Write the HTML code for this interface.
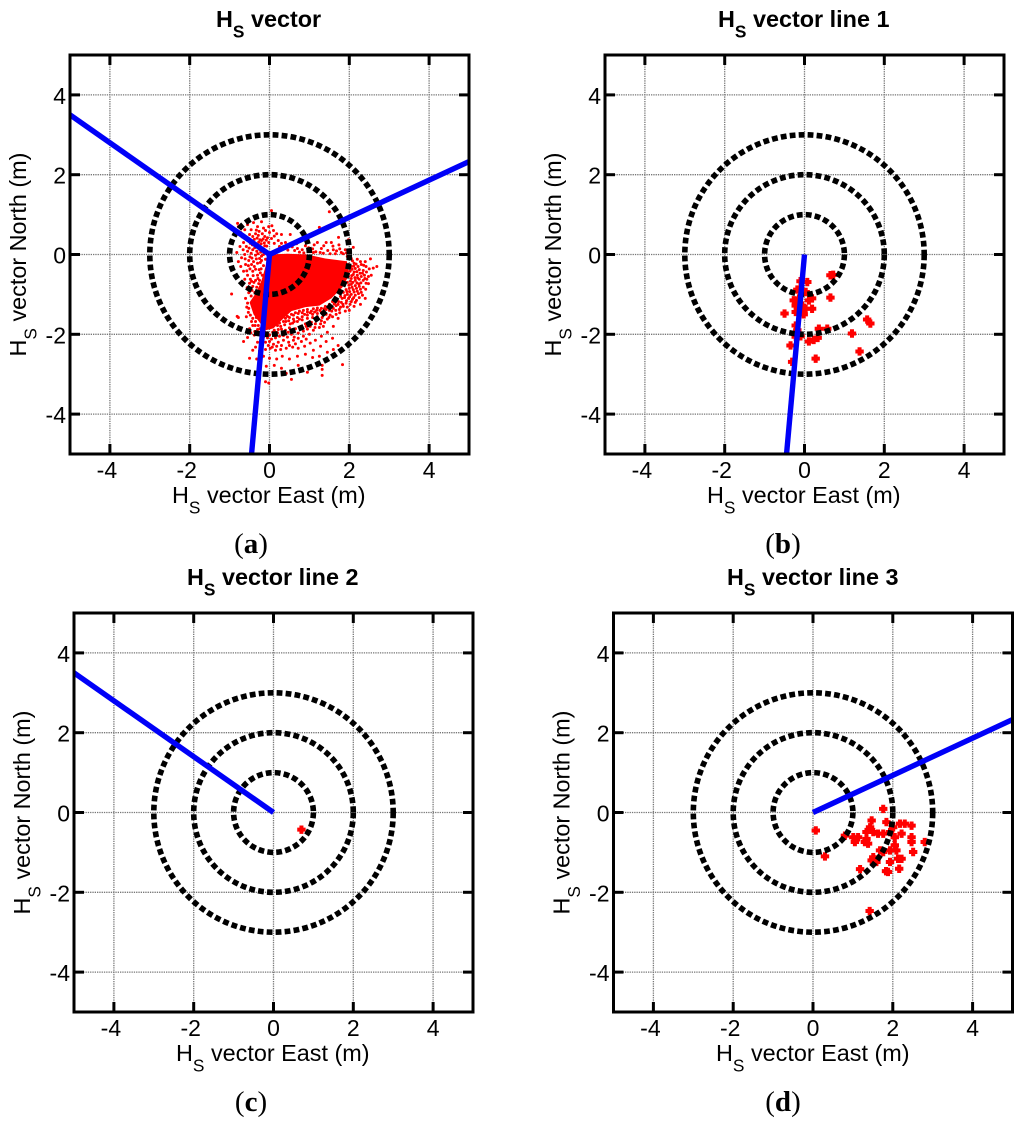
<!DOCTYPE html>
<html>
<head>
<meta charset="utf-8">
<title>HS vector scatter panels</title>
<style>
html,body{margin:0;padding:0;background:#fff;}
svg{display:block;}
text{font-family:"Liberation Sans",sans-serif;fill:#000;}
</style>
</head>
<body>
<svg id="fig" xmlns="http://www.w3.org/2000/svg" width="1024" height="1127" viewBox="0 0 1024 1127"></svg>
<script>
const tickValues = [-4, -2, 0, 2, 4];
const tickLabels = ["-4", "-2", "0", "2", "4"];
const ringRadii = [1, 2, 3];
const axisLimit = 5;

const line1End = [-0.45, -5];
const line2End = [-5, 3.5];
const line3End = [5, 2.33];

const panelATitle = "vector";
const panelBTitle = "vector line 1";
const panelCTitle = "vector line 2";
const panelDTitle = "vector line 3";

/* solid saturated core of the panel (a) cloud, [east, north] */
const coreOutline = [[0,0],[0.45,0.02],[0.94,0],[1.4,-0.1],[1.94,-0.17],[2,-0.5],[1.83,-0.82],[1.55,-1.1],[1.25,-1.28],[0.9,-1.32],[0.55,-1.42],[0.3,-1.65],[0.1,-1.85],[-0.1,-1.9],[-0.25,-1.7],[-0.4,-1.5],[-0.5,-1.2],[-0.33,-0.95],[-0.2,-0.65],[-0.1,-0.3]];

const cloudPoints = [
[0.05,1.1],[-0.8,0.78],[-0.78,0.7],[-0.62,0.62],[-0.55,0.75],[-0.4,0.8],[-0.3,0.7],[-0.2,0.82],[-0.1,0.6],[0,0.55],[0.1,0.6],[0.3,0.5],[0.52,0.5],[-0.72,0.55],[-0.5,0.5],[-0.42,0.45],[-0.35,0.52],[-0.28,0.48],[-0.18,0.52],[-0.12,0.45],[-0.05,0.42],[0.05,0.4],[0.12,0.46],[0.22,0.35],[0.3,0.28],[0.4,0.3],[0.25,0.2],[0.12,0.28],[-0.02,0.3],[-0.2,0.35],[-0.12,0.22],
[-0.65,0.3],[-0.58,0.2],[-0.55,0.08],[-0.62,0],[-0.7,-0.08],[-0.52,-0.15],[-0.6,-0.25],[-0.72,-0.3],[-0.65,-0.42],[-0.55,-0.52],[-0.48,-0.62],[-0.42,-0.42],[-0.38,-0.3],[-0.4,-0.18],[-0.35,-0.02],[-0.42,0.12],[-0.3,0.2],[-0.32,0.08],[-0.25,-0.1],[-0.3,-0.22],[-0.26,-0.38],[-0.3,-0.52],[-0.35,-0.65],[-0.25,-0.65],[-0.18,-0.52],[-0.15,-0.28],[-0.2,-0.15],[-0.15,0],[-0.5,-0.72],[-0.42,-0.8],[-0.32,-0.82],[-0.18,-0.75],[-0.62,-0.62],[-0.78,-0.18],[-0.82,0.05],[-0.48,0.28],[-0.18,0.12],[-0.1,-0.12],[-0.95,-0.99],[-0.81,-1.55],[-0.78,-1.58],
[0.7,0.15],[0.9,0.22],[1.02,0.1],[1.2,0.3],[1.25,0.68],[1.5,1.07],[1.42,0.3],[1.6,0.12],[1.73,0.43],[1.98,0.37],[2.1,0.18],[1.8,0.05],[1.55,0.3],[1.3,0.15],[0.82,0.12],[1.1,0.05],[1.65,0.02],[1.9,0.12],
[1.95,-0.05],[2.05,-0.1],[2.12,-0.22],[2.2,-0.12],[2.3,-0.25],[2.4,-0.18],[2.53,-0.11],[2.69,-0.3],[2.6,-0.34],[2.5,-0.36],[2.42,-0.3],[2.35,-0.4],[2.25,-0.38],[2.15,-0.35],[2.05,-0.3],[1.98,-0.25],[2.02,-0.42],[2.1,-0.5],[2.2,-0.52],[2.3,-0.55],[2.38,-0.52],[2.48,-0.55],[2.55,-0.52],[2.48,-0.73],[2.42,-0.72],[2.35,-0.65],[2.25,-0.62],[2.15,-0.65],[2.05,-0.6],[1.98,-0.55],[1.95,-0.7],[2.05,-0.75],[2.15,-0.78],[2.25,-0.8],[2.35,-0.82],[2.3,-0.95],[2.2,-0.92],[2.1,-0.88],[2,-0.85],[1.92,-0.88],[1.85,-0.95],[1.95,-1],[2.05,-1],[2.15,-1.02],[2.25,-1.08],[2.18,-1.15],[2.08,-1.12],[1.98,-1.1],[1.88,-1.08],[1.78,-1.05],[1.7,-1.12],[1.8,-1.2],[1.92,-1.22],[2.02,-1.25],[2.12,-1.3],[1.95,-1.32],[1.85,-1.3],[1.72,-1.25],[2.28,-1.25],[2.4,-1.1],[1.65,-1.2],[1.6,-1.35],[1.75,-1.38],[1.9,-1.42],[2,-1.4],
[1.4,-1.3],[1.5,-1.25],[1.58,-1.18],[1.3,-1.35],[1.2,-1.34],[1.1,-1.36],[0.95,-1.38],[0.85,-1.4],[0.75,-1.42],[0.65,-1.46],[0.55,-1.5],[0.45,-1.55],[0.4,-1.6],[0.35,-1.68],[0.25,-1.72],[0.5,-1.58],[0.6,-1.52],[0.72,-1.48],[0.82,-1.46],[0.95,-1.44],[1.05,-1.42],[1.18,-1.4],[1.3,-1.44],[1.42,-1.38],[1.5,-1.4],[1.35,-1.5],[1.2,-1.48],[1.08,-1.5],[0.95,-1.52],[0.82,-1.56],[0.7,-1.58],[0.6,-1.62],[0.48,-1.66],[0.38,-1.76],[0.28,-1.8],[0.2,-1.78],[0.58,-1.72],[0.7,-1.68],[0.82,-1.64],[0.95,-1.6],[1.08,-1.58],[1.2,-1.56],[1.32,-1.58],[1.42,-1.5],[1.52,-1.52],[1.45,-1.62],[1.3,-1.66],[1.18,-1.64],[1.05,-1.7],[0.9,-1.74],[0.78,-1.8],[0.65,-1.86],[0.5,-1.84],[0.4,-1.9],[0.3,-1.87],[1.15,-1.74],[1.28,-1.74],[1.38,-1.7],
[0.12,-1.9],[0.08,-1.95],[-0.05,-1.96],[-0.12,-1.94],[-0.2,-1.88],[-0.28,-1.78],[-0.35,-1.68],[-0.42,-1.6],[-0.48,-1.52],[-0.52,-1.35],[-0.18,-1.96],[-0.1,-2],[0,-2.02],[0.1,-2],[0.2,-1.96],[-0.3,-1.88],[-0.42,-1.78],[-0.28,-1.98],[-0.15,-2.06],[-0.05,-2.09],[0.05,-2.12],[0.15,-2.09],[0.25,-2.05],[0.35,-2.03],[0.45,-2.07],[0.55,-2],[0.62,-2.07],[0.72,-1.97],[0.85,-1.92],[0.95,-1.87],[1.1,-1.9],[-0.38,-2.02],
[-0.2,-2.15],[-0.1,-2.2],[0,-2.18],[0.1,-2.25],[0.22,-2.2],[0.35,-2.15],[0.48,-2.2],[0.6,-2.15],[0.72,-2.1],[0.85,-2.05],[1,-2],[-0.65,-2.18],[-0.55,-2.08],[-0.3,-2.2],[-0.35,-2.32],[-0.42,-2.4],[-0.25,-2.42],[-0.1,-2.38],[0.02,-2.35],[0.15,-2.4],[0.28,-2.38],[0.42,-2.35],[0.58,-2.32],[0.72,-2.35],[0.88,-2.3],[1.02,-2.22],[1.15,-2.15],[1.3,-2.05],[1.45,-1.95],[1.6,-1.8],[1.72,-1.6],[1.1,-2.4],[1.28,-2.3],[1.42,-2.18],[1.58,-2.1],[-0.5,-2.6],[-0.32,-2.62],[-0.15,-2.55],[0,-2.6],[0.18,-2.62],[0.32,-2.55],[0.5,-2.62],[0.7,-2.55],[0.9,-2.5],[1.08,-2.58],[1.25,-2.55],[1.45,-2.45],[1.6,-2.38],[1.72,-2.28],[-0.08,-2.8],[0.12,-2.78],[0.3,-2.85],[0.72,-2.78],[1.32,-2.78],[1.32,-2.88],[1.83,-2.76],[0.55,-3.13],[1.32,-3.03],[-0.1,-3.19],[-0.02,-3.22],[0.42,-2.98],[0.95,-2.95]
];

const cloudExtraPoints = [
[-0.47,0.33],[-0.38,0.38],[-0.31,0.41],[-0.24,0.37],[-0.16,0.39],[-0.08,0.36],[-0.43,0.24],[-0.36,0.27],[-0.27,0.31],[-0.21,0.27],[-0.13,0.29],[-0.07,0.21],[-0.37,0.17],[-0.25,0.13],[-0.22,0.06],[-0.12,0.09],[-0.08,0.05],[-0.29,0.02],[-0.2,-0.04],[-0.46,0.03],[-0.49,-0.06],[-0.44,-0.09],[-0.33,-0.11],[-0.23,-0.2],[-0.45,-0.25],[-0.35,-0.37],[-0.21,-0.36],[-0.23,-0.46],[-0.41,-0.53],[-0.29,-0.6],[-0.39,-0.7],[-0.27,-0.73],[-0.45,-0.67],[-0.57,-0.41],[-0.49,-0.36],[-0.53,-0.28],[-0.61,-0.11],[-0.66,0.12],[-0.51,0.16],[-0.74,0.2],[-0.56,0.36],[-0.68,0.44],[-0.46,0.62],[-0.33,0.61],[-0.26,0.58],[-0.15,0.66],[-0.02,0.7],[0.06,0.72],[0.18,0.52],[-0.56,-0.83],[-0.44,-0.9],[-0.37,-0.95],[-0.52,-0.96],[-0.46,-1.04],[-0.6,-1.1],[-0.55,-1.22],[-0.57,-1.32],
[0.46,0.11],[0.57,0.19],[0.68,0.27],[0.63,0.1],[0.75,0.06],[0.86,0.04],[0.98,0.17],[1.08,0.14],[1.16,0.07],[1.27,0.05],[1.35,0.03],[1.46,0.1],[1.52,0.02],[1.59,0.21],[1.68,0.09],[1.76,0.14],[1.85,0.02],[1.93,0.04],[1.36,0.22],[1.12,0.24],[1.74,0.24],
[2.03,-0.04],[2.08,-0.16],[2.17,-0.24],[2.11,-0.29],[2.22,-0.3],[2.28,-0.18],[2.36,-0.27],[2.07,-0.37],[2.12,-0.44],[2.19,-0.43],[2.27,-0.47],[2.33,-0.47],[2.43,-0.44],[2.06,-0.53],[2.14,-0.58],[2.21,-0.59],[2.29,-0.71],[2.39,-0.6],[2.44,-0.62],[2.03,-0.67],[2.09,-0.7],[2.19,-0.71],[2.24,-0.74],[2.41,-0.87],[1.99,-0.77],[2.07,-0.82],[2.12,-0.94],[2.18,-0.85],[2.28,-0.87],[1.94,-0.93],[2.01,-0.93],[2.23,-0.98],[2.33,-1.02],[1.89,-1.03],[2.01,-1.06],[2.11,-1.08],[1.82,-1.1],[1.93,-1.16],[2.05,-1.18],[1.73,-1.18],[1.84,-1.25],[1.67,-1.28],[1.78,-1.32],[2.15,-1.2],
[0.41,-1.68],[0.52,-1.74],[0.62,-1.68],[0.75,-1.62],[0.88,-1.5],[1.02,-1.46],[1.13,-1.44],[1.26,-1.4],[1.37,-1.36],[1.46,-1.33],[1.55,-1.32],[1.62,-1.24],[1.56,-1.42],[1.66,-1.4],[1.49,-1.58],[1.58,-1.56],[1.67,-1.5],[1.76,-1.46],[1.35,-1.8],[1.25,-1.83],[1.14,-1.83],[1.02,-1.8],[0.92,-1.8],[0.47,-1.95],[0.33,-1.96],[0.22,-1.88],[0.15,-1.95],[-0.33,-1.58],[-0.45,-1.68],[-0.53,-1.45],[-0.58,-1.56],[-0.36,-1.78],[-0.24,-1.86],[-0.5,-1.86],[-0.37,-1.93],[-0.47,-1.96],[-0.18,-2.28],[-0.03,-2.28],[0.07,-2.32],[0.18,-2.3],[0.3,-2.28],[0.5,-2.28],[0.65,-2.24],[0.8,-2.18],[0.92,-2.12]
];

const line1Points = [[0.65,-0.52],[0.72,-0.51],[-0.1,-0.67],[0.07,-0.69],[0.65,-1.08],[-0.18,-0.88],[0.03,-0.94],[-0.27,-1.15],[-0.14,-1.1],[0.11,-1.15],[0.19,-1.1],[-0.22,-1.28],[-0.06,-1.28],[0.03,-1.36],[0.19,-1.36],[-0.22,-1.44],[-0.02,-1.5],[-0.5,-1.48],[-0.22,-1.78],[-0.18,-1.9],[-0.14,-2.02],[-0.22,-2.06],[0.36,-1.86],[0.57,-1.86],[1.19,-1.98],[1.57,-1.63],[1.65,-1.73],[1.38,-2.43],[0.28,-2.61],[-0.35,-2.28],[-0.31,-2.69],[0.11,-2.18],[0.23,-2.14],[0.33,-2.09],[-0.1,-2.05]];

const line2Points = [[0.7,-0.43]];

const line3Points = [[0.07,-0.45],[0.3,-1.1],[1.76,0.09],[1.42,-2.47],[1.18,-1.42],[0.8,-0.58],[1.01,-0.62],[1.05,-0.74],[1.13,-0.62],[1.34,-0.66],[1.38,-0.78],[1.3,-0.74],[1.47,-0.2],[1.43,-0.37],[1.34,-0.49],[1.51,-0.49],[1.63,-0.53],[1.76,-0.53],[1.84,-0.24],[1.93,-0.49],[2.01,-0.37],[2.18,-0.28],[2.3,-0.28],[2.47,-0.33],[2.22,-0.53],[2.47,-0.62],[2.47,-0.74],[2.8,-0.74],[2.51,-0.99],[2.05,-0.82],[2.09,-0.95],[1.93,-0.95],[1.76,-0.99],[1.68,-0.95],[1.51,-1.12],[1.47,-1.2],[1.59,-1.24],[1.93,-1.24],[2.13,-1.16],[2.22,-1.16],[2.16,-1.41],[1.83,-1.47],[1.88,-1.49],[2.05,-0.62]];

const NS = "http://www.w3.org/2000/svg";
const fig = document.getElementById("fig");

function make(tag, attrs, parent) {
  const el = document.createElementNS(NS, tag);
  for (const k in attrs) el.setAttribute(k, attrs[k]);
  (parent || fig).appendChild(el);
  return el;
}

function label(el, name, active) {
  
  
  return el;
}

function hsText(parent, x, y, size, weight, rest, rotate) {
  const attrs = {x: x, y: y, "font-size": size, "font-weight": weight, "text-anchor": "start"};
  if (rotate) attrs.transform = "rotate(-90 " + x + " " + y + ")";
  const t = make("text", attrs, parent);
  t.appendChild(document.createTextNode("H"));
  const sub = make("tspan", {dy: 10.5, "font-size": size * 0.74}, t);
  sub.textContent = "S";
  const tail = make("tspan", {dy: -10.5}, t);
  tail.textContent = " " + rest;
  return t;
}

function drawPanel(p) {
  const g = make("g", {});
  label(g, p.name, false);
  const X = v => p.x0 + v * 39.9;
  const Y = v => p.y0 - v * 39.9;
  const left = X(-axisLimit), right = X(axisLimit), top = Y(axisLimit), bottom = Y(-axisLimit);

  const grid = make("g", {stroke: "#777", "stroke-width": 1.3, "stroke-dasharray": "1.3 1"}, g);
  label(grid, "grid-lines", false);
  tickValues.forEach(v => {
    make("line", {x1: X(v), x2: X(v), y1: top, y2: bottom}, grid);
    make("line", {x1: left, x2: right, y1: Y(v), y2: Y(v)}, grid);
  });

  if (p.core) {
    const core = make("polygon", {fill: "#f00", points: p.core.map(c => X(c[0]) + "," + Y(c[1])).join(" ")}, g);
    label(core, "dense-point-core", false);
  }

  const marks = make("g", {fill: "#f00"}, g);
  label(marks, "scatter-points", false);
  p.points.forEach(c => {
    if (p.small) {
      const dot = make("circle", {cx: X(c[0]), cy: Y(c[1]), r: 1.5}, marks);
      
      
    } else {
      const x = X(c[0]), y = Y(c[1]);
      const plus = make("path", {d: "M" + (x - 2) + " " + (y - 4.2) + "h4v2.2h2.2v4h-2.2v2.2h-4v-2.2h-2.2v-4h2.2z"}, marks);
      
      
    }
  });

  ringRadii.forEach(r => {
    const ring = make("circle", {cx: X(0), cy: Y(0), r: r * 39.9, fill: "none", stroke: "#000", "stroke-width": 5.6, "stroke-dasharray": "5.8 3.2"}, g);
    label(ring, "radius-ring-" + r + "m", false);
  });

  p.lines.forEach((e, i) => {
    const l = make("line", {x1: X(0), y1: Y(0), x2: X(e[0]), y2: Y(e[1]), stroke: "#0000f8", "stroke-width": 5.4}, g);
    label(l, "direction-line-" + (i + 1), false);
  });

  const cover = make("path", {fill: "#fff", "fill-rule": "evenodd", d: "M" + (left - 12) + " " + (top - 12) + "H" + (right + 12) + "V" + (bottom + 12) + "H" + (left - 12) + "Z M" + left + " " + top + "H" + right + "V" + bottom + "H" + left + "Z"}, g);
  label(cover, "plot-clip-mask", false);

  const ticks = make("g", {stroke: "#000", "stroke-width": 3}, g);
  label(ticks, "axis-ticks", false);
  tickValues.forEach(v => {
    make("line", {x1: X(v), x2: X(v), y1: top, y2: top + 10}, ticks);
    make("line", {x1: X(v), x2: X(v), y1: bottom, y2: bottom - 10}, ticks);
    make("line", {y1: Y(v), y2: Y(v), x1: left, x2: left + 10}, ticks);
    make("line", {y1: Y(v), y2: Y(v), x1: right, x2: right - 10}, ticks);
  });

  const frame = make("rect", {x: left, y: top, width: right - left, height: bottom - top, fill: "none", stroke: "#000", "stroke-width": 3}, g);
  label(frame, "plot-frame", false);

  tickValues.forEach((v, i) => {
    const xl = make("text", {x: X(v) - (v < 0 ? 3 : 0), y: bottom + 24, "font-size": 23, "text-anchor": "middle"}, g);
    xl.textContent = tickLabels[i];
    label(xl, "x-tick-label", false);
    const yl = make("text", {x: left - 4, y: Y(v) + 9, "font-size": 23, "text-anchor": "end"}, g);
    yl.textContent = tickLabels[i];
    label(yl, "y-tick-label", false);
  });

  label(hsText(g, p.titleX, top - 28, 23.4, "bold", p.title), "panel-title", false);
  label(hsText(g, p.xTitleX, bottom + 49, 23.4, "normal", "vector East (m)"), "x-axis-title", false);
  label(hsText(g, left - 44, p.y0 + 102, 23.4, "normal", "vector North (m)", true), "y-axis-title", false);

  const cap = make("text", {x: p.capX, y: p.capY, "font-size": 29, "text-anchor": "middle"}, g);
  cap.setAttribute("style", 'font-family:"Liberation Serif",serif');
  label(cap, "panel-caption", false);
  cap.appendChild(document.createTextNode("("));
  const letter = make("tspan", {"font-weight": "bold"}, cap);
  letter.textContent = p.cap;
  cap.appendChild(document.createTextNode(")"));
}

drawPanel({name: "panel-a", x0: 269.5, y0: 254.5, title: panelATitle, titleX: 216, xTitleX: 172, capX: 251, capY: 553, cap: "a", points: cloudPoints.concat(cloudExtraPoints), core: coreOutline, small: true, lines: [line1End, line2End, line3End]});
drawPanel({name: "panel-b", x0: 804.5, y0: 254.5, title: panelBTitle, titleX: 718, xTitleX: 707, capX: 783, capY: 553, cap: "b", points: line1Points, lines: [line1End]});
drawPanel({name: "panel-c", x0: 273.5, y0: 812.5, title: panelCTitle, titleX: 187, xTitleX: 176, capX: 251, capY: 1111, cap: "c", points: line2Points, lines: [line2End]});
drawPanel({name: "panel-d", x0: 813, y0: 812.5, title: panelDTitle, titleX: 727, xTitleX: 716, capX: 783, capY: 1111, cap: "d", points: line3Points, lines: [line3End]});
</script>
</body>
</html>
